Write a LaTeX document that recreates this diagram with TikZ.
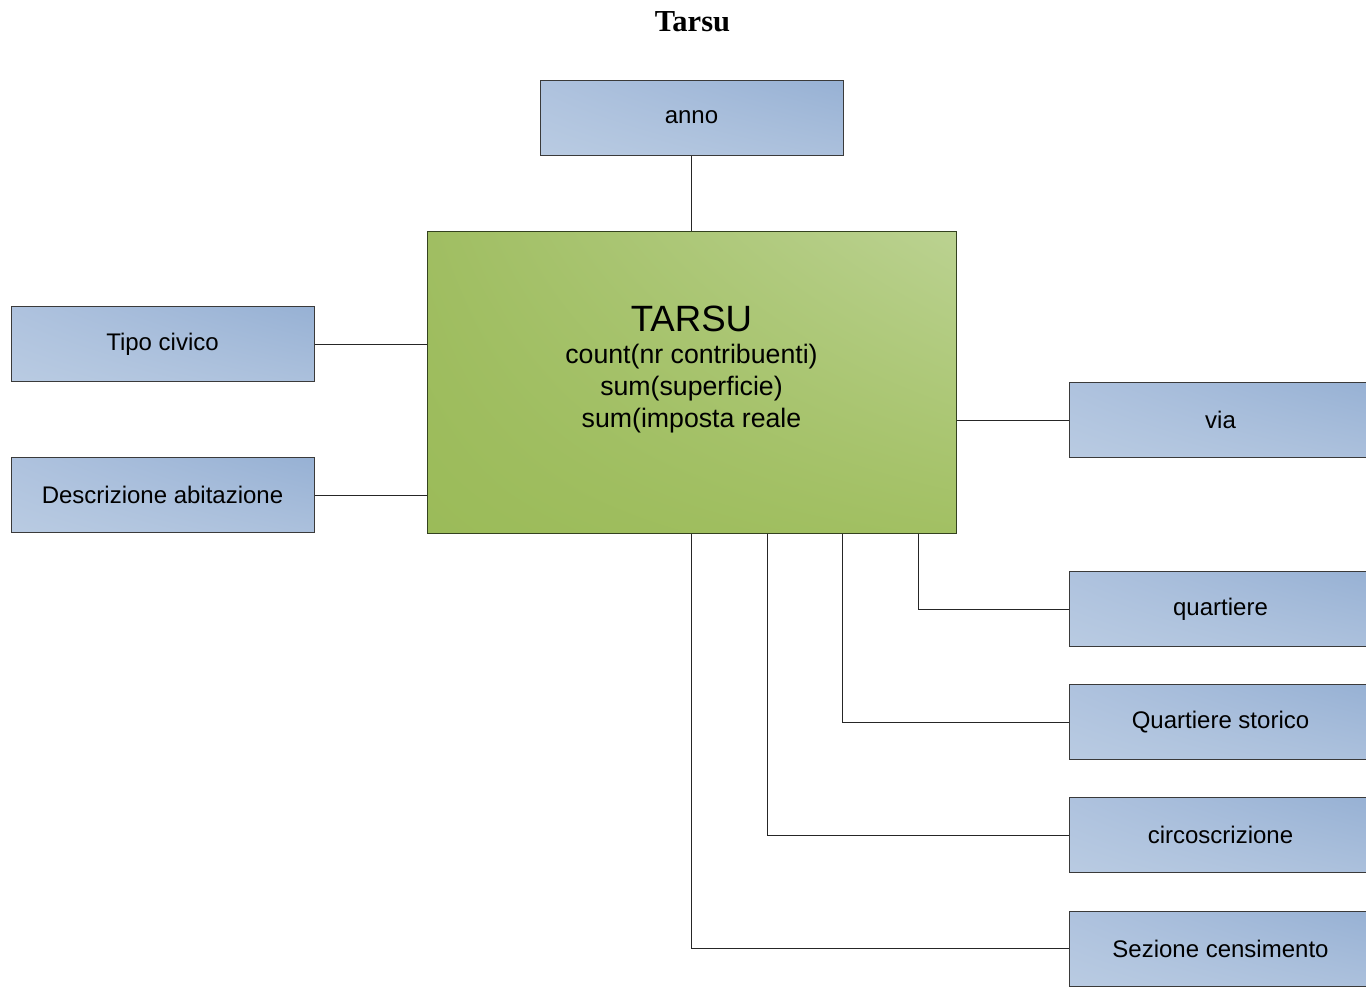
\documentclass[tikz,border=0pt]{standalone}
\usepackage{fontspec}
\setmainfont{Liberation Sans}
\newfontfamily\titlefont{Liberation Serif}
\usetikzlibrary{calc,shadings}
\definecolor{dimBL}{HTML}{B9CBE2}
\definecolor{dimUL}{HTML}{AEC2DE}
\definecolor{dimUR}{HTML}{97B1D4}
\definecolor{dimLR}{HTML}{ABC0DC}
\definecolor{factLL}{HTML}{9BBB59}
\definecolor{factUL}{HTML}{A0BE62}
\definecolor{factUR}{HTML}{BBD291}
\definecolor{factLR}{HTML}{A2C063}
\definecolor{dimedge}{HTML}{3A3A3A}
\definecolor{factedge}{HTML}{34421F}
\tikzset{
  dimbox/.style={draw=dimedge, line width=1pt,
    lower left=dimBL, upper left=dimUL, upper right=dimUR, lower right=dimLR,
    minimum width=303pt, minimum height=75pt, inner sep=0pt,
    font=\fontsize{24}{28}\selectfont},
  factbox/.style={draw=factedge, line width=1pt,
    lower left=factLL, upper left=factUL, upper right=factUR, lower right=factLR,
    minimum width=529pt, minimum height=302pt, inner sep=0pt},
  link/.style={draw=black!85, line width=1pt}
}
\begin{document}
\begin{tikzpicture}[x=1pt, y=-1pt]
\clip (0,0) rectangle (1366,986);
\fill[white] (0,0) rectangle (1366,986);

% title
\node[font=\titlefont\bfseries\fontsize{30.5}{36}\selectfont] (title) at (692.5,22) {Tarsu};

% fact table
\node[factbox] (tarsu) at (691.5,382) {};
\node[inner sep=0pt, align=center, font=\fontsize{26.7}{32}\selectfont] (tarsutext) at (691.5,369.5)
  {{\fontsize{36.6}{40}\selectfont TARSU}\\count(nr contribuenti)\\sum(superficie)\\sum(imposta reale};

% dimensions
\node[dimbox] (anno) at (691.5,117.5) {anno};
\node[dimbox] (tipo) at (162.5,344) {Tipo civico};
\node[dimbox] (descr) at (162.5,495) {Descrizione abitazione};
\node[dimbox] (via) at (1220.5,420) {via};
\node[dimbox] (quart) at (1220.5,609) {quartiere};
\node[dimbox] (qstor) at (1220.5,722) {Quartiere storico};
\node[dimbox] (circ) at (1220.5,835) {circoscrizione};
\node[dimbox] (sez) at (1220.5,948.5) {Sezione censimento};

% connectors
\draw[link] (anno.south) -- (tarsu.north);
\draw[link] (tipo.east) -- (tipo.east -| tarsu.west);
\draw[link] (descr.east) -- (descr.east -| tarsu.west);
\draw[link] (via.west -| tarsu.east) -- (via.west);
\draw[link] ([xshift=226.5pt]tarsu.south) |- (quart.west);
\draw[link] ([xshift=151pt]tarsu.south) |- (qstor.west);
\draw[link] ([xshift=75.5pt]tarsu.south) |- (circ.west);
\draw[link] (tarsu.south) |- (sez.west);
\end{tikzpicture}
\end{document}
